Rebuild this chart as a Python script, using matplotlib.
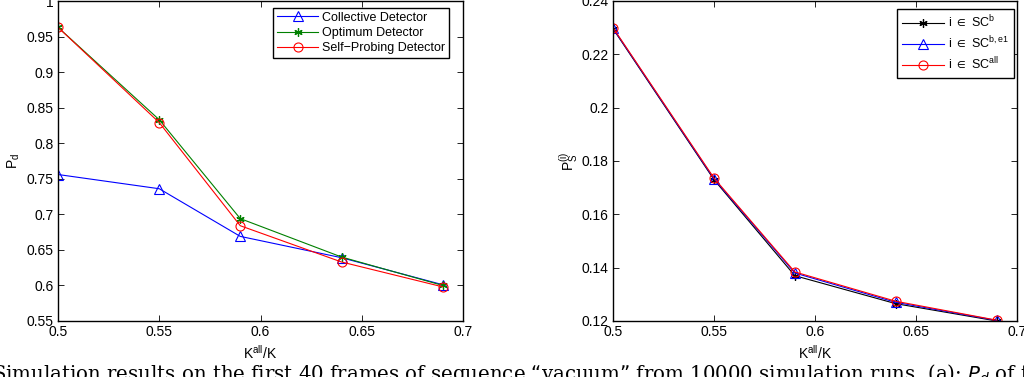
import matplotlib.pyplot as plt

plt.rcParams['font.family'] = ['Liberation Sans', 'DejaVu Sans']
plt.rcParams['mathtext.default'] = 'regular'
plt.rcParams['font.size'] = 10

# data
k_ratio = [0.5, 0.55, 0.59, 0.64, 0.69]

pd_collective = [0.756, 0.736, 0.669, 0.639, 0.601]
pd_optimum = [0.963, 0.833, 0.694, 0.640, 0.600]
pd_selfprobing = [0.963, 0.829, 0.684, 0.633, 0.598]

ps_b = [0.2296, 0.1730, 0.1370, 0.1265, 0.1200]
ps_be1 = [0.2298, 0.1733, 0.1380, 0.1270, 0.1202]
ps_all = [0.2300, 0.1736, 0.1384, 0.1274, 0.1203]

caption = ('Simulation results on the first 40 frames of sequence \u201cvacuum\u201d '
           'from 10000 simulation runs. (a): $\\mathit{P_d}$ of the')

W, H = 1024, 377
fig = plt.figure(figsize=(W / 100, H / 100), dpi=100)

ax1 = fig.add_axes([58 / W, 56 / H, 405 / W, 320 / H])
ax2 = fig.add_axes([613 / W, 56 / H, 404 / W, 320 / H])

star = (6, 2, 0)
ax1.plot(k_ratio, pd_collective, '-^', color='blue', lw=0.8, mfc='none', ms=7,
         mew=0.8, label='Collective Detector')
ax1.plot(k_ratio, pd_optimum, '-', marker=star, color='green', lw=0.8, ms=6,
         mew=0.9, label='Optimum Detector')
ax1.plot(k_ratio, pd_selfprobing, '-o', color='red', lw=0.8, mfc='none', ms=6.5,
         mew=0.8, label='Self\u2212Probing Detector')
ax1.set_xlim(0.5, 0.7)
ax1.set_ylim(0.55, 1.0)
ax1.set_xticks([0.5, 0.55, 0.6, 0.65, 0.7])
ax1.set_xticklabels(['0.5', '0.55', '0.6', '0.65', '0.7'])
ax1.set_yticks([0.55, 0.6, 0.65, 0.7, 0.75, 0.8, 0.85, 0.9, 0.95, 1.0])
ax1.set_yticklabels(['0.55', '0.6', '0.65', '0.7', '0.75', '0.8', '0.85', '0.9', '0.95', '1'])
ax1.set_xlabel('K$^{all}$/K')
ax1.set_ylabel('P$_{d}$')
ax1.xaxis.set_label_coords(0.5, -0.072)
ax1.yaxis.set_label_coords(-0.09, 0.5)
ax1.legend(loc='upper right', bbox_to_anchor=(449 / W, 1 - 8 / H),
           bbox_transform=fig.transFigure, fontsize=9, frameon=True,
           fancybox=False, edgecolor='black', framealpha=1, handlelength=3.3,
           borderpad=0.3, labelspacing=0.25, handletextpad=0.3, borderaxespad=0)

ax2.plot(k_ratio, ps_b, '-', marker=star, color='black', lw=0.8, ms=6, mew=0.9,
         label='i $\\in$ SC$^{b}$')
ax2.plot(k_ratio, ps_be1, '-^', color='blue', lw=0.8, mfc='none', ms=7, mew=0.8,
         label='i $\\in$ SC$^{b,e1}$')
ax2.plot(k_ratio, ps_all, '-o', color='red', lw=0.8, mfc='none', ms=6.5, mew=0.8,
         label='i $\\in$ SC$^{all}$')
ax2.set_xlim(0.5, 0.7)
ax2.set_ylim(0.12, 0.24)
ax2.set_xticks([0.5, 0.55, 0.6, 0.65, 0.7])
ax2.set_xticklabels(['0.5', '0.55', '0.6', '0.65', '0.7'])
ax2.set_yticks([0.12, 0.14, 0.16, 0.18, 0.2, 0.22, 0.24])
ax2.set_yticklabels(['0.12', '0.14', '0.16', '0.18', '0.2', '0.22', '0.24'])
ax2.set_xlabel('K$^{all}$/K')
ax2.set_ylabel('P$_{S}^{(i)}$')
ax2.xaxis.set_label_coords(0.5, -0.072)
ax2.yaxis.set_label_coords(-0.078, 0.5)
ax2.legend(loc='upper right', bbox_to_anchor=(1014 / W, 1 - 9 / H),
           bbox_transform=fig.transFigure, fontsize=9, frameon=True,
           fancybox=False, edgecolor='black', framealpha=1, handlelength=3.4,
           borderpad=0.4, labelspacing=0.35, handletextpad=0.3, borderaxespad=0)

for ax in (ax1, ax2):
    ax.tick_params(direction='in', top=True, right=True, length=4, width=0.6,
                   labelsize=10, pad=3)
    for s in ax.spines.values():
        s.set_linewidth(1.0)

fig.text(-8 / W, -3 / H, caption, family='DejaVu Serif', fontsize=14.2,
         ha='left', va='baseline')

fig.savefig('out.png', dpi=100)
